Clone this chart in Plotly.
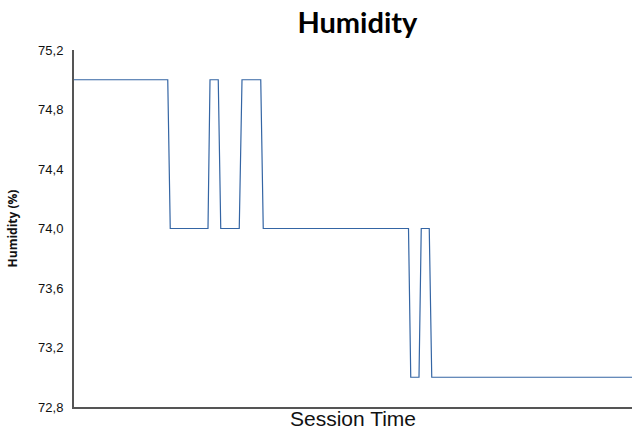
import plotly.graph_objects as go

# Corner points of the humidity trace (session time in samples, humidity in %)
session_time = [0, 37.5, 38.5, 53.6, 54.4, 57.7, 58.7, 66.1, 67.2, 74.7, 75.7,
                133.8, 134.7, 138.0, 138.9, 142.1, 143.1, 223.2]
humidity = [75.0, 75.0, 74.0, 74.0, 75.0, 75.0, 74.0, 74.0, 75.0, 75.0, 74.0,
            74.0, 73.0, 73.0, 74.0, 74.0, 73.0, 73.0]
y_ticks = [72.8, 73.2, 73.6, 74.0, 74.4, 74.8, 75.2]

fig = go.Figure()
fig.add_trace(go.Scatter(x=session_time, y=humidity, mode="lines",
                         line=dict(color="#3465a4", width=1.2),
                         showlegend=False, hoverinfo="skip"))

fig.update_layout(
    width=632, height=433,
    margin=dict(l=74, r=0, t=50, b=26, autoexpand=False),
    paper_bgcolor="white", plot_bgcolor="white",
    separators=",.",
    font=dict(family="Liberation Sans, Arial, sans-serif", color="#111"),
    title=dict(text="<b>Humidity</b>", x=0.5655, xanchor="center",
               y=0.947, yanchor="middle",
               font=dict(family="Lato, Noto Sans, sans-serif", size=29, color="#000")),
)
fig.update_xaxes(range=[0, 223.2], showgrid=False, zeroline=False,
                 showticklabels=False, ticks="",
                 showline=True, linecolor="#555", linewidth=2,
                 title=dict(text="Session Time", standoff=3,
                            font=dict(size=21, color="#111")))
fig.update_yaxes(range=[72.8, 75.2], tickvals=y_ticks, tickformat=".1f",
                 showgrid=False, zeroline=False, ticks="",
                 ticklabelstandoff=6,
                 tickfont=dict(size=13, color="#111"),
                 showline=True, linecolor="#555", linewidth=2,
                 title=dict(text="<b>Humidity (%)</b>", standoff=18,
                            font=dict(family="Open Sans, sans-serif", size=12, color="#111")))

fig.write_html("out.html", config={"displayModeBar": False},
               post_script="document.body.style.margin='0px';")
